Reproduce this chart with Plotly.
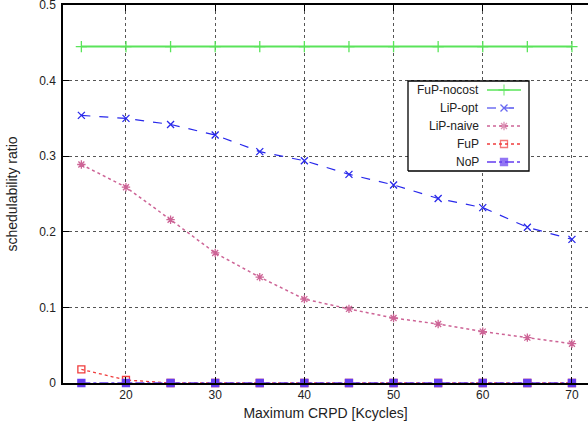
import plotly.graph_objects as go

crpd = [15, 20, 25, 30, 35, 40, 45, 50, 55, 60, 65, 70]
fup_nocost = [0.445] * 12
lip_opt = [0.354, 0.350, 0.342, 0.328, 0.306, 0.294, 0.276, 0.262, 0.244, 0.232, 0.206, 0.190]
lip_naive = [0.289, 0.259, 0.216, 0.172, 0.140, 0.111, 0.098, 0.086, 0.078, 0.068, 0.060, 0.052]
fup = [0.018, 0.004, 0, 0, 0, 0, 0, 0, 0, 0, 0, 0]
nop = [0] * 12

series_names = ["FuP-nocost", "LiP-opt", "LiP-naive", "FuP", "NoP"]
x_ticks = [20, 30, 40, 50, 60, 70]
y_ticks = [0, 0.1, 0.2, 0.3, 0.4, 0.5]
y_tick_text = ["0", "0.1", "0.2", "0.3", "0.4", "0.5"]

W, H = 588, 425
L, R, T, B = 63, 0, 5, 42
PW, PH = W - L - R, H - T - B

styles = {
    "FuP-nocost": dict(color="rgb(90,228,90)", dash="solid", width=2, symbol="cross-thin-open", msize=8),
    "LiP-opt": dict(color="rgb(40,40,235)", dash="dash", width=1.2, symbol="x-thin-open", msize=7),
    "LiP-naive": dict(color="rgb(205,100,150)", dash="dot", width=1.5, symbol="asterisk-open", msize=7),
    "FuP": dict(color="rgb(240,60,60)", dash="dot", width=1.3, symbol="square-open", msize=7),
    "NoP": dict(color="rgb(100,60,240)", dash="dashdot", width=1.3, symbol="square", msize=7),
}
data = {"FuP-nocost": fup_nocost, "LiP-opt": lip_opt, "LiP-naive": lip_naive, "FuP": fup, "NoP": nop}

fig = go.Figure()
for name in series_names:
    s = styles[name]
    fig.add_trace(go.Scatter(
        x=crpd, y=data[name], mode="lines+markers", name=name,
        line=dict(color=s["color"], dash=s["dash"], width=s["width"]),
        marker=dict(symbol=s["symbol"], size=s["msize"], color=s["color"],
                    line=dict(color=s["color"], width=1.3)),
        cliponaxis=False, showlegend=False,
    ))

# custom gnuplot-style legend (text right, sample on the right)
def px2x(px):
    return (px - L) / PW

def py2y(py):
    return (H - B - py) / PH

bx0, bx1, by0, by1 = px2x(408), px2x(529), py2y(171), py2y(81)
fig.add_trace(go.Scatter(
    x=[bx0, bx1, bx1, bx0, bx0], y=[by0, by0, by1, by1, by0],
    xaxis="x2", yaxis="y2", mode="lines", fill="toself", fillcolor="white",
    line=dict(color="black", width=1.3), showlegend=False, hoverinfo="skip",
))
row_y = [90, 108, 126, 144, 162]
for name, ry in zip(series_names, row_y):
    s = styles[name]
    fig.add_annotation(x=px2x(481), y=py2y(ry), xref="paper", yref="paper",
                       text=name, showarrow=False, xanchor="right", yanchor="middle",
                       font=dict(size=12, color="#222"))
    fig.add_trace(go.Scatter(
        x=[px2x(487), px2x(504), px2x(521)], y=[py2y(ry)] * 3,
        xaxis="x2", yaxis="y2", mode="lines+markers", showlegend=False,
        line=dict(color=s["color"], dash=s["dash"], width=s["width"] if name != "FuP-nocost" else 1.3),
        marker=dict(symbol=s["symbol"], size=[0, s["msize"], 0], color=s["color"],
                    line=dict(color=s["color"], width=1.3)),
        hoverinfo="skip",
    ))

fig.update_layout(
    width=W, height=H,
    margin=dict(l=L, r=R, t=T, b=B, autoexpand=False),
    paper_bgcolor="white", plot_bgcolor="white",
    font=dict(family="Liberation Sans, Arial, sans-serif", size=12, color="#222"),
    xaxis=dict(
        range=[12.94, 71.8], tickvals=x_ticks, ticks="inside", ticklen=6,
        tickcolor="black", showline=True, linecolor="black", linewidth=1.5,
        mirror="ticks", zeroline=False, ticklabeloverflow="allow",
        showgrid=True, gridcolor="#555", griddash="dot", gridwidth=1,
        title=dict(text="Maximum CRPD [Kcycles]", standoff=7),
    ),
    yaxis=dict(
        range=[0, 0.5], tickvals=y_ticks, ticktext=y_tick_text, ticks="inside", ticklen=6,
        tickcolor="black", showline=True, linecolor="black", linewidth=1.5,
        zeroline=False, ticklabelstandoff=3, ticklabeloverflow="allow",
        showgrid=True, gridcolor="#555", griddash="dot", gridwidth=1,
        title=dict(text="schedulability ratio", standoff=18),
    ),
    xaxis2=dict(range=[0, 1], overlaying="x", visible=False, fixedrange=True),
    yaxis2=dict(range=[0, 1], overlaying="y", visible=False, fixedrange=True),
)

fig.write_html("out.html", config={"displayModeBar": False},
               post_script="document.body.style.margin='0px';document.body.style.overflow='hidden';")
